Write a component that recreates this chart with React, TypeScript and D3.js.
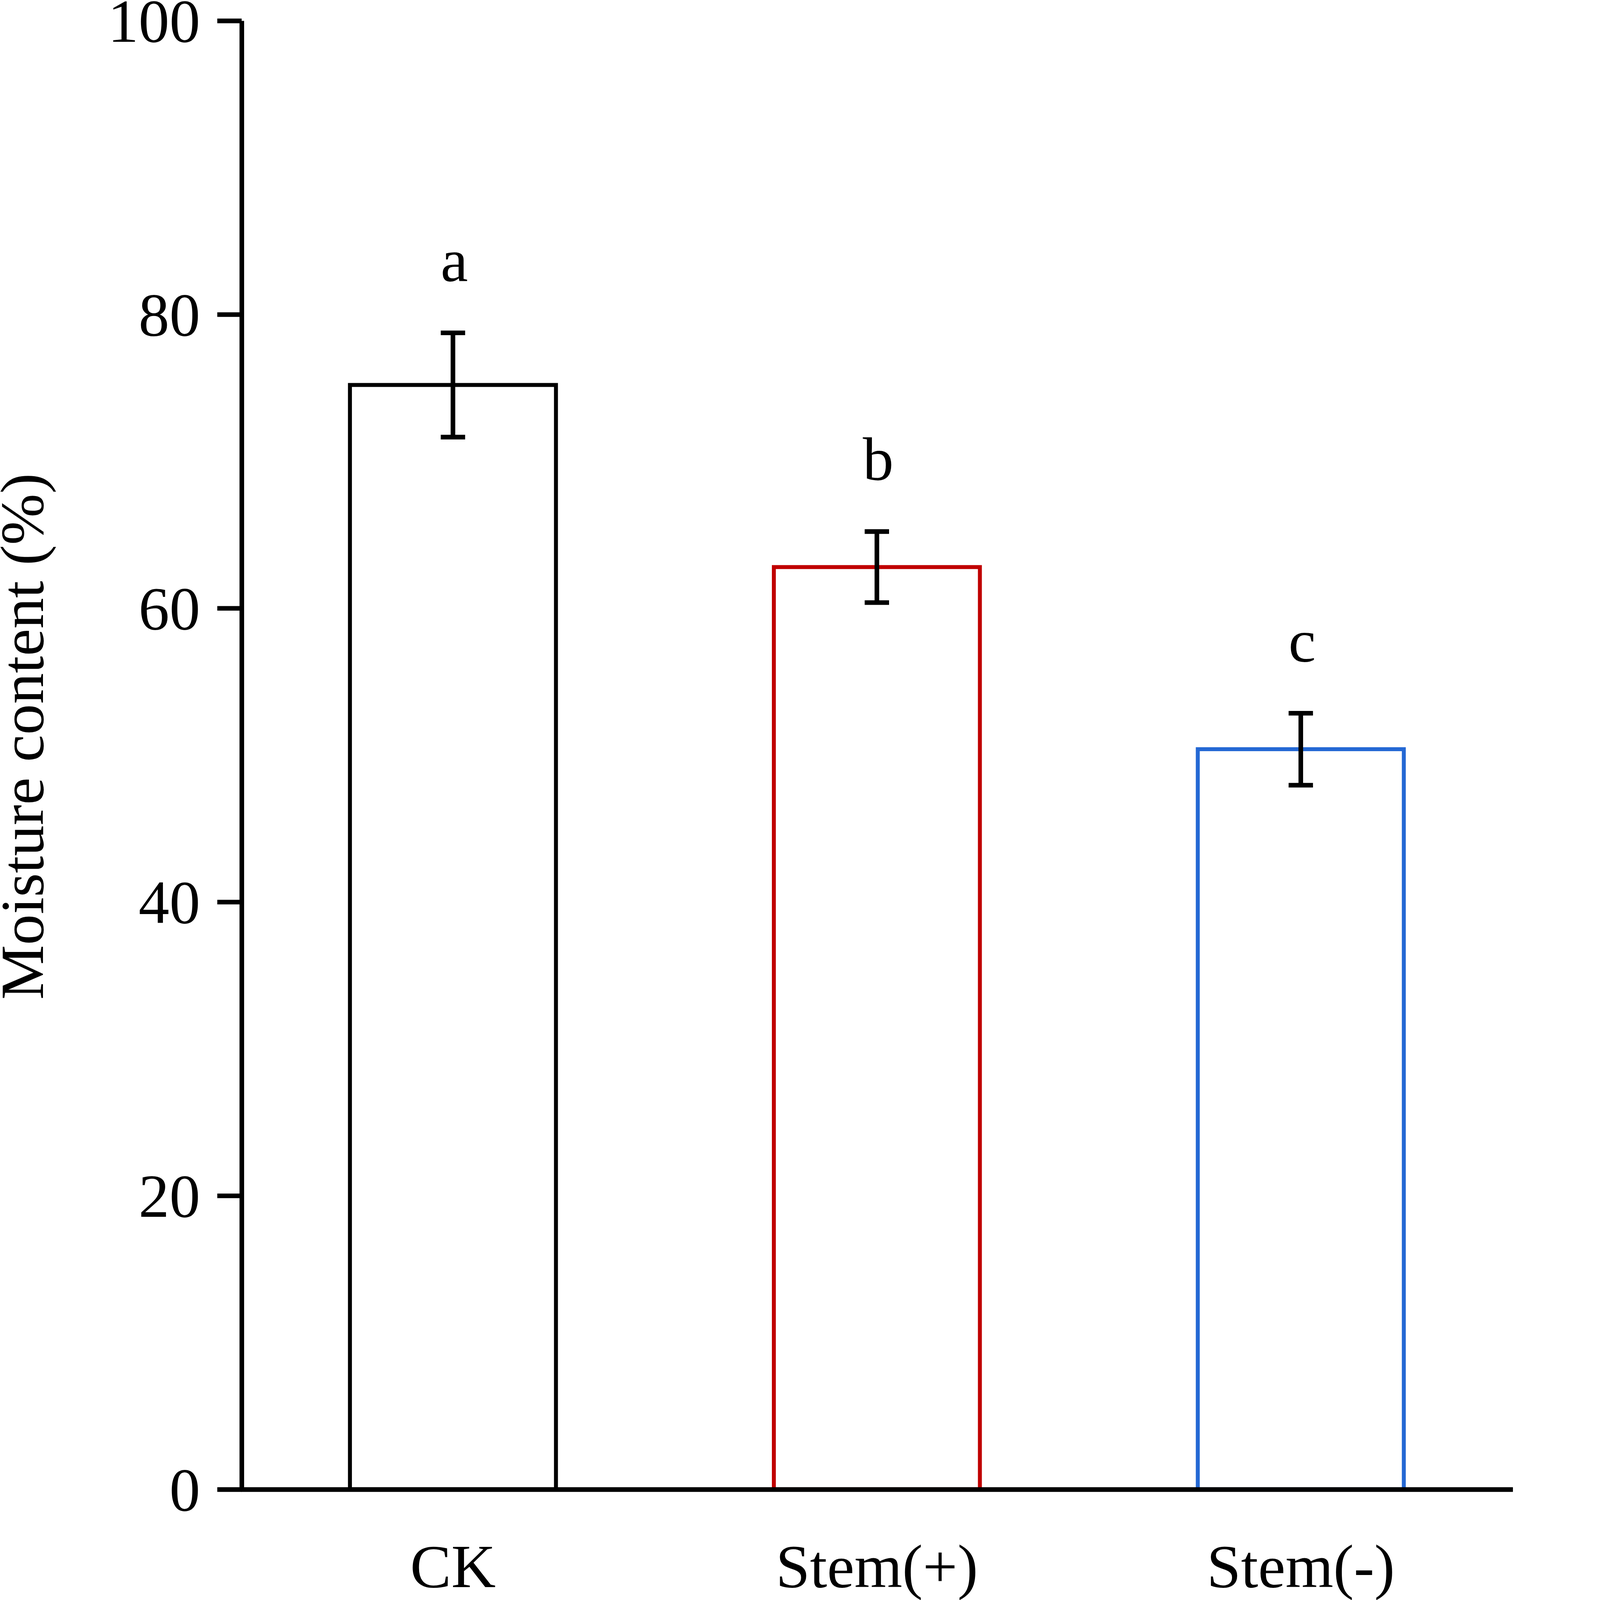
import React, { useEffect, useRef } from "react";
import * as d3 from "d3";

const categories = ["CK", "Stem(+)", "Stem(-)"];
const means = [75.2, 62.8, 50.4];
const errors = [3.55, 2.42, 2.45];
const sigLetters = ["a", "b", "c"];
const barColors = ["#000000", "#C00000", "#2468D4"];
const yTicks = [0, 20, 40, 60, 80, 100];
const yLabel = "Moisture content (%)";

const W = 4597;
const H = 4860;
const FONT = "'Liberation Serif', 'Times New Roman', Times, Tinos, serif";
const FS = 187;

export default function App() {
  const yAxisRef = useRef<SVGGElement>(null);
  const xAxisRef = useRef<SVGGElement>(null);

  const x = d3.scaleBand<string>().domain(categories).range([732, 4595]).padding(0);
  const y = d3.scaleLinear().domain([0, 100]).range([4524, 63]);
  const barW = x.bandwidth() * 0.486;

  useEffect(() => {
    document.body.style.margin = "0";
    document.body.style.overflow = "hidden";
    if (yAxisRef.current) {
      const g = d3.select(yAxisRef.current);
      g.call(
        d3.axisLeft(y).tickValues(yTicks).tickSize(74).tickSizeOuter(0).tickPadding(52).tickFormat(d3.format("d"))
      );
      g.attr("font-family", FONT);
      g.select(".domain").attr("stroke", "#000").attr("stroke-width", 14);
      g.selectAll(".tick line").attr("stroke", "#000").attr("stroke-width", 14);
      g.selectAll(".tick text")
        .attr("font-family", FONT)
        .attr("font-size", FS)
        .attr("fill", "#000")
        .attr("dy", "0.34em");
    }
    if (xAxisRef.current) {
      const g = d3.select(xAxisRef.current);
      g.call(d3.axisBottom(x).tickSize(0).tickSizeOuter(0));
      g.attr("font-family", FONT);
      g.select(".domain").attr("stroke", "#000").attr("stroke-width", 14);
      g.selectAll(".tick text")
        .attr("font-family", FONT)
        .attr("font-size", FS)
        .attr("fill", "#000")
        .attr("y", 297)
        .attr("dy", 0);
    }
  }, []);

  return (
    <svg
      viewBox={`0 0 ${W} ${H}`}
      preserveAspectRatio="xMinYMin meet"
      style={{ position: "absolute", left: 0, top: 0, width: "100vw", height: "100vh", display: "block", background: "#fff" }}
    >
      <rect x={0} y={0} width={W} height={H} fill="#fff" />
      {categories.map((c, i) => {
        const cx = (x(c) as number) + x.bandwidth() / 2;
        return (
          <rect
            key={"bar" + c}
            x={cx - barW / 2}
            y={y(means[i])}
            width={barW}
            height={y(0) - y(means[i])}
            fill="none"
            stroke={barColors[i]}
            strokeWidth={12}
          />
        );
      })}
      {categories.map((c, i) => {
        const cx = (x(c) as number) + x.bandwidth() / 2;
        const top = y(means[i] + errors[i]);
        const bot = y(means[i] - errors[i]);
        return (
          <g key={"err" + c} stroke="#000" strokeWidth={14}>
            <line x1={cx} x2={cx} y1={top} y2={bot} />
            <line x1={cx - 37} x2={cx + 37} y1={top} y2={top} />
            <line x1={cx - 37} x2={cx + 37} y1={bot} y2={bot} />
          </g>
        );
      })}
      {categories.map((c, i) => {
        const cx = (x(c) as number) + x.bandwidth() / 2;
        return (
          <text
            key={"sig" + c}
            x={cx + 4}
            y={y(means[i] + errors[i]) - 158}
            textAnchor="middle"
            fontFamily={FONT}
            fontSize={FS}
            fill="#000"
          >
            {sigLetters[i]}
          </text>
        );
      })}
      <g ref={xAxisRef} transform={`translate(0,${y(0)})`} />
      <g ref={yAxisRef} transform={`translate(734,0)`} />
      <text
        transform={`translate(130,2237) rotate(-90)`}
        textAnchor="middle"
        fontFamily={FONT}
        fontSize={FS}
        fill="#000"
      >
        {yLabel}
      </text>
    </svg>
  );
}
